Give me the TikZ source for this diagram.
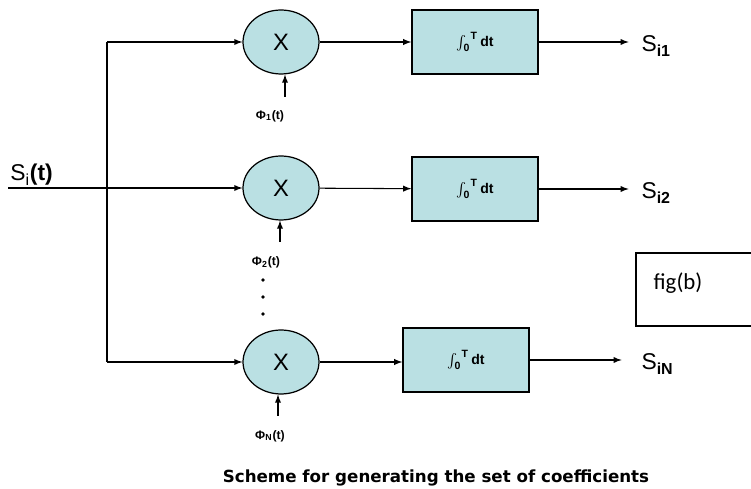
\documentclass[tikz,border=0pt]{standalone}
\usepackage{amsmath}
\usepackage{fontspec}
\setmainfont{Liberation Sans}
\newfontfamily\figfont{Carlito}
\newfontfamily\capfont{DejaVu Sans}
\usepackage{xcolor}
\usetikzlibrary{shapes,arrows,positioning,calc}
\definecolor{blockfill}{RGB}{186,224,227}

\begin{document}
\begin{tikzpicture}[
  x=0.02cm, y=-0.02cm,
  line width=0.6pt,
  mult/.style={draw, ellipse, fill=blockfill, line width=0.7pt, minimum width=1.52cm, minimum height=1.28cm, inner sep=0pt, font=\fontsize{13.5}{13.5}\selectfont},
  integ/.style={draw, rectangle, fill=blockfill, line width=0.8pt, minimum width=2.52cm, minimum height=1.28cm, font=\fontsize{8}{8}\selectfont\bfseries},
  basis/.style={font=\fontsize{7}{7}\selectfont\bfseries},
  outlbl/.style={anchor=west, inner sep=0pt, font=\fontsize{13}{13}\selectfont},
  sig/.style={draw, -latex},
]
\useasboundingbox (0,0) rectangle (751,489);

% multipliers
\node[mult] (mult1) at (281,42) {X};
\node[mult] (mult2) at (281,188) {X};
\node[mult] (multN) at (281,362) {X};

% integrators
\node[integ] (int1) at (475,42) {{\boldmath$\int_{\text{0}}^{\;\text{T}}$}\,dt};
\node[integ] (int2) at (475,189) {{\boldmath$\int_{\text{0}}^{\;\text{T}}$}\,dt};
\node[integ] (intN) at (466,360) {{\boldmath$\int_{\text{0}}^{\;\text{T}}$}\,dt};

% outputs
\node[outlbl] (s1) at (641,46) {S\textsubscript{\bfseries i1}};
\node[outlbl] (s2) at (641,193) {S\textsubscript{\bfseries i2}};
\node[outlbl] (sN) at (641,364) {S\textsubscript{\bfseries iN}};

% input and split
\coordinate (in) at (8,188);
\node[anchor=south west, inner sep=1pt, font=\fontsize{13}{13}\selectfont] (sin) at (in) {S\textsubscript{i}\textbf{(t)}};
\coordinate (top) at (107,42);
\coordinate (bot) at (107,362);
\draw (top) -- (bot);
\draw[sig] (top) -- (mult1);
\draw[sig] (in) -- (mult2);
\draw[sig] (bot) -- (multN);

% basis functions
\node[basis] (phi1) at (270,116) {Φ\textsubscript{1}(t)};
\node[basis] (phi2) at (266,262) {Φ\textsubscript{2}(t)};
\node[basis] (phiN) at (270,436) {Φ\textsubscript{N}(t)};
\coordinate (f1) at (285,97);
\coordinate (f2) at (280,242);
\coordinate (fN) at (278,416);
\draw[sig] (f1) -- (f1 |- mult1.south);
\draw[sig] (f2) -- (f2 |- mult2.south);
\draw[sig] (fN) -- (fN |- multN.south);
\foreach \y in {280,297,314}
  \fill (263,\y) circle (1.1pt);

% paths through the chain
\draw[sig] (mult1) -- (int1);
\draw[sig] (mult2) -- (int2);
\draw[sig] (multN.east) -- (multN.east -| intN.west);
\draw[sig, shorten >=7pt] (int1.east) -- (int1.east -| s1.west);
\draw[sig, shorten >=7pt] (int2.east) -- (int2.east -| s2.west);
\draw[sig, shorten >=11pt] (intN.east) -- (intN.east -| sN.west);

% side label
\node[font=\figfont\fontsize{13}{13}\selectfont] (figlbl) at (678,283) {fig(b)};
\draw[line width=0.8pt] (751,253) -- (636,253) -- (636,326) -- (751,326);

% caption
\node[font=\capfont\fontsize{9.5}{9.5}\selectfont\bfseries] (caption) at (436,478) {Scheme for generating the set of coefficients};
\end{tikzpicture}
\end{document}
